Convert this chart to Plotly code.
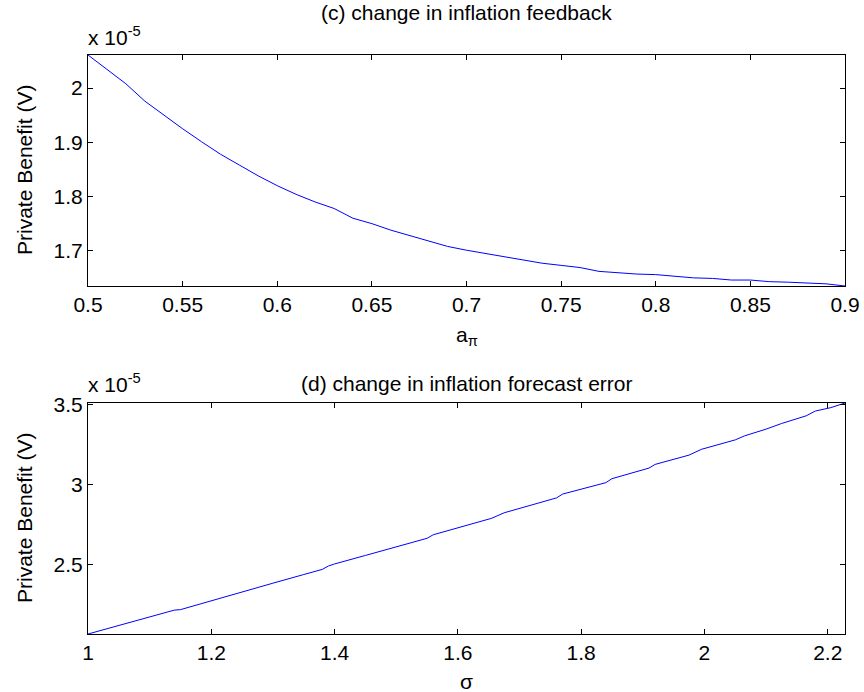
import plotly.graph_objects as go

# Panel (c): private benefit vs inflation feedback a_pi (values in units of 1e-5)
a_pi = [0.50, 0.51, 0.52, 0.53, 0.54, 0.55, 0.56, 0.57, 0.58, 0.59,
        0.60, 0.61, 0.62, 0.63, 0.64, 0.65, 0.66, 0.67, 0.68, 0.69,
        0.70, 0.71, 0.72, 0.73, 0.74, 0.75, 0.76, 0.77, 0.78, 0.79,
        0.80, 0.81, 0.82, 0.83, 0.84, 0.85, 0.86, 0.87, 0.88, 0.89, 0.90]
benefit_c = [2.061, 2.035, 2.008, 1.976, 1.950, 1.925, 1.901, 1.878, 1.858, 1.838,
             1.820, 1.804, 1.790, 1.778, 1.760, 1.750, 1.738, 1.728, 1.718, 1.708,
             1.701, 1.695, 1.689, 1.683, 1.677, 1.673, 1.669, 1.662, 1.659, 1.657,
             1.656, 1.653, 1.650, 1.649, 1.646, 1.646, 1.643, 1.642, 1.640, 1.639, 1.635]

# Panel (d): private benefit vs inflation forecast error sigma (units of 1e-5)
sigma = [1.00, 1.05, 1.10, 1.14, 1.15, 1.20, 1.25, 1.30, 1.35, 1.38, 1.39, 1.40,
         1.45, 1.50, 1.55, 1.56, 1.60, 1.62, 1.655, 1.675, 1.70, 1.75, 1.76, 1.77,
         1.80, 1.84, 1.85, 1.90, 1.91, 1.92, 1.95, 1.975, 1.995, 2.05, 2.065, 2.10,
         2.125, 2.165, 2.18, 2.205, 2.228]
benefit_d = [2.069, 2.122, 2.175, 2.218, 2.221, 2.277, 2.332, 2.386, 2.440, 2.472, 2.493, 2.506,
             2.559, 2.613, 2.666, 2.688, 2.732, 2.754, 2.791, 2.825, 2.852, 2.908, 2.918, 2.942,
             2.972, 3.013, 3.038, 3.094, 3.104, 3.127, 3.160, 3.185, 3.221, 3.280, 3.305, 3.347,
             3.382, 3.430, 3.460, 3.481, 3.510]

top_ticks = [0.5, 0.55, 0.6, 0.65, 0.7, 0.75, 0.8, 0.85, 0.9]
bottom_ticks = [1, 1.2, 1.4, 1.6, 1.8, 2, 2.2]

W, H = 864, 692
FONT = "Liberation Sans, Arial, sans-serif"
FS = 21

def px_x(p):
    return p / W

def px_y(p):
    return 1 - p / H

fig = go.Figure()
fig.add_trace(go.Scatter(x=a_pi, y=benefit_c, mode="lines",
                         line=dict(color="#0000ff", width=1), xaxis="x", yaxis="y"))
fig.add_trace(go.Scatter(x=sigma, y=benefit_d, mode="lines",
                         line=dict(color="#0000ff", width=1), xaxis="x2", yaxis="y2"))

axis_style = dict(showline=True, linecolor="black", linewidth=1, mirror="ticks",
                  ticks="inside", ticklen=5, tickcolor="black", tickwidth=1,
                  showgrid=False, zeroline=False, automargin=False,
                  tickfont=dict(family=FONT, size=FS, color="black"))

xd = [px_x(88), px_x(845)]
fig.update_layout(
    template="none",
    width=W, height=H, margin=dict(l=0, r=0, t=0, b=0, pad=0),
    paper_bgcolor="white", plot_bgcolor="white", showlegend=False,
    xaxis=dict(domain=xd, range=[min(a_pi), max(a_pi)], tickvals=top_ticks,
               anchor="y", **axis_style),
    yaxis=dict(domain=[px_y(286), px_y(55)], range=[min(benefit_c), max(benefit_c)],
               dtick=0.1, tick0=1.7, anchor="x", **axis_style),
    xaxis2=dict(domain=xd, range=[min(sigma), max(sigma)], tickvals=bottom_ticks,
                anchor="y2", **axis_style),
    yaxis2=dict(domain=[px_y(634), px_y(403)], range=[min(benefit_d), max(benefit_d)],
                dtick=0.5, tick0=2.5, anchor="x2", **axis_style),
)

txt = dict(family=FONT, size=FS, color="black")
cx = px_x((88 + 845) / 2)
ann = [
    dict(text="(c) change in inflation feedback", x=cx, y=px_y(12)),
    dict(text="(d) change in inflation forecast error", x=cx, y=px_y(384)),
    dict(text="x 10<sup>-5</sup>", x=px_x(86), y=px_y(36), xanchor="left"),
    dict(text="x 10<sup>-5</sup>", x=px_x(86), y=px_y(383), xanchor="left"),
    dict(text="a<sub>π</sub>", x=cx, y=px_y(336)),
    dict(text="σ", x=cx, y=px_y(681)),
    dict(text="Private Benefit (V)", x=px_x(24), y=px_y(170), textangle=-90),
    dict(text="Private Benefit (V)", x=px_x(24), y=px_y(518), textangle=-90),
]
for a in ann:
    a.setdefault("xanchor", "center")
    fig.add_annotation(xref="paper", yref="paper", showarrow=False,
                       font=txt, yanchor="middle", **a)

fig.write_html("out.html")
